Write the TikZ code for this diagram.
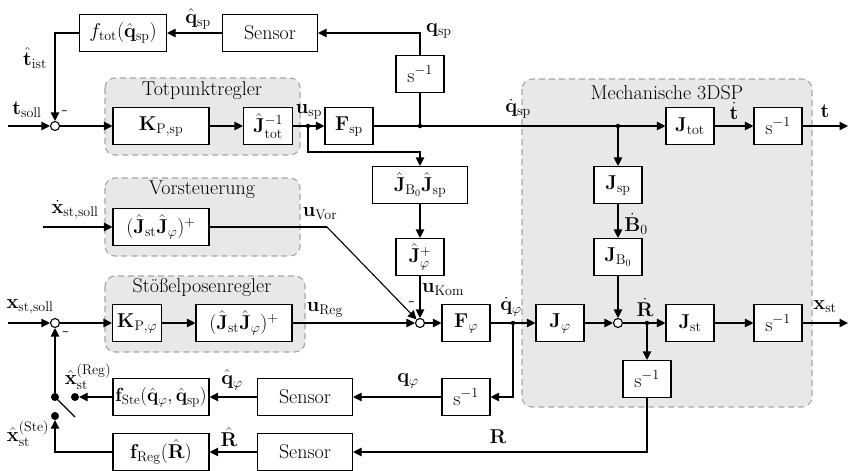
\RequirePackage{fix-cm}
\documentclass[tikz,border=0pt]{standalone}
\usepackage{amsmath}
\usetikzlibrary{arrows.meta}
\begin{document}
\begin{tikzpicture}[x=1pt,y=-1pt,
 font=\fontsize{20}{23}\selectfont,
 blk/.style={draw, line width=1.1pt, fill=white, minimum width=48, minimum height=37, inner sep=1pt},
 wblk/.style={blk, minimum width=96},
 sumc/.style={circle, draw, line width=1.1pt, fill=white, minimum size=9, inner sep=0pt},
 jdot/.style={circle, fill, minimum size=4.5, inner sep=0pt},
 sdot/.style={circle, fill, minimum size=8, inner sep=0pt},
 grp/.style={draw=black!35, dash pattern=on 6pt off 4pt, fill=black!9, rounded corners=10pt, line width=1.1pt},
 sig/.style={line width=1.1pt, -{Triangle[length=8.5pt,width=8.5pt]}},
 ln/.style={line width=1.1pt},
 lbl/.style={inner sep=1pt},
]
\useasboundingbox (0,0) rectangle (852,471);

% groups
\draw[grp] (105,78) rectangle (300,155);
\node (gtp) at (202,91) {Totpunktregler};
\draw[grp] (105,178) rectangle (300,256);
\node (gvs) at (202,190) {Vorsteuerung};
\draw[grp] (105,276) rectangle (305,352);
\node (gsp) at (202,288) {Stößelposenregler};
\draw[grp] (522,79) rectangle (812,407);
\node (gms) at (667,93) {Mechanische 3DSP};

% top row
\node[wblk, minimum width=87] (ftot) at (123,33) {$f_{\mathrm{tot}}(\hat{\mathbf{q}}_{\mathrm{sp}})$};
\node[wblk, minimum width=95] (sen1) at (270,33) {Sensor};
\node[blk] (s1) at (420,74) {$\mathrm{s}^{-1}$};

% main t row
\node[sumc] (sum1) at (55,126) {};
\node[wblk] (ksp) at (161,126) {$\mathbf{K}_{\mathrm{P},\mathrm{sp}}$};
\node[blk, minimum width=49] (jtoti) at (268,126) {$\hat{\mathbf{J}}_{\mathrm{tot}}^{-1}$};
\node[jdot] (usp) at (308,126) {};
\node[blk] (fsp) at (349,126) {$\mathbf{F}_{\mathrm{sp}}$};
\node[jdot] (dq) at (420,126) {};
\node[jdot] (dq2) at (618,126) {};
\node[blk] (jtot) at (690,126) {$\mathbf{J}_{\mathrm{tot}}$};
\node[blk] (s2) at (778,126) {$\mathrm{s}^{-1}$};
\coordinate (tout) at (848,126);
\coordinate (tin) at (8,126);

% middle column
\node[wblk, minimum width=95] (jbsp) at (420,185) {$\hat{\mathbf{J}}_{\mathrm{B}_0}\hat{\mathbf{J}}_{\mathrm{sp}}$};
\node[blk] (jphip) at (420,257) {$\hat{\mathbf{J}}_{\varphi}^{+}$};
\coordinate (ub) at (308,152);

% Vorsteuerung
\node[wblk] (vor) at (161,227) {$(\hat{\mathbf{J}}_{\mathrm{st}}\hat{\mathbf{J}}_{\varphi})^{+}$};
\coordinate (vin) at (43,227);
\coordinate (vk) at (327,227);

% Mech column
\node[blk] (jsp) at (618,185) {$\mathbf{J}_{\mathrm{sp}}$};
\node[blk] (jb0) at (618,257) {$\mathbf{J}_{\mathrm{B}_0}$};

% x row
\coordinate (xin) at (8,323);
\node[sumc] (sum3) at (55,323) {};
\node[blk, minimum width=49] (kphi) at (137,323) {$\mathbf{K}_{\mathrm{P},\varphi}$};
\node[wblk] (reg) at (244,323) {$(\hat{\mathbf{J}}_{\mathrm{st}}\hat{\mathbf{J}}_{\varphi})^{+}$};
\node[sumc] (sum2) at (420,323) {};
\node[blk] (fphi) at (466,323) {$\mathbf{F}_{\varphi}$};
\node[jdot] (dqphi) at (513,323) {};
\node[blk] (jphi) at (560,323) {$\mathbf{J}_{\varphi}$};
\node[sumc] (sum4) at (618,323) {};
\node[jdot] (dR) at (647,323) {};
\node[blk] (jst) at (690,323) {$\mathbf{J}_{\mathrm{st}}$};
\node[blk] (s3) at (778,323) {$\mathrm{s}^{-1}$};
\coordinate (xout) at (848,323);
\node[blk] (s4) at (647,379) {$\mathrm{s}^{-1}$};

% feedback rows
\node[blk] (s5) at (466,397) {$\mathrm{s}^{-1}$};
\node[wblk, minimum width=95] (sen3) at (305,397) {Sensor};
\node[wblk, inner sep=0pt, font=\fontsize{19}{22}\selectfont] (fste) at (161,397) {$\mathbf{f}_{\mathrm{Ste}}(\hat{\mathbf{q}}_{\varphi},\hat{\mathbf{q}}_{\mathrm{sp}})$};
\node[sdot] (swr) at (75,397) {};
\node[sdot] (swl) at (55,397) {};
\node[sdot] (swb) at (55,416) {};
\coordinate (blade) at (75,417);
\node[wblk, minimum width=95] (sen4) at (305,452) {Sensor};
\node[wblk] (freg) at (161,452) {$\mathbf{f}_{\mathrm{Reg}}(\hat{\mathbf{R}})$};

% connectors top
\draw[sig] (sen1) -- (ftot);
\draw[sig] (s1.north) |- (sen1.east);
\draw[ln] (dq) -- (s1);
\draw[sig] (ftot.west) -| (sum1.north);
\draw[sig] (tin) -- (sum1.west);
\draw[sig] (sum1) -- (ksp);
\draw[sig] (ksp) -- (jtoti);
\draw[sig] (jtoti) -- (fsp);
\draw[sig] (fsp) -- (jtot);
\draw[sig] (jtot) -- (s2);
\draw[sig] (s2) -- (tout);
\draw[sig] (dq2) -- (jsp);
\draw[sig] (usp.center) -- (ub) -| (jbsp.north);
\draw[sig] (jbsp) -- (jphip);
\draw[sig] (jphip) -- (sum2);
\draw[sig] (vin) -- (vor.west);
\draw[ln] (vor.east) -- (vk);
\draw[sig] (vk) -- (sum2);

% connectors x row
\draw[sig] (xin) -- (sum3);
\draw[sig] (sum3) -- (kphi);
\draw[sig] (kphi) -- (reg);
\draw[sig] (reg) -- (sum2);
\draw[sig] (sum2) -- (fphi);
\draw[sig] (fphi) -- (jphi);
\draw[sig] (jphi) -- (sum4);
\draw[sig] (jsp) -- (jb0);
\draw[sig] (jb0) -- (sum4);
\draw[sig] (sum4) -- (jst);
\draw[sig] (jst) -- (s3);
\draw[sig] (s3) -- (xout);
\draw[sig] (dR) -- (s4);

% feedback
\draw[sig] (s4.south) |- (sen4.east);
\draw[sig] (dqphi) |- (s5.east);
\draw[sig] (s5) -- (sen3);
\draw[sig] (sen3) -- (fste);
\draw[sig] (fste) -- (swr);
\draw[sig] (sen4) -- (freg);
\draw[sig] (freg.west) -| (swb.south);
\draw[sig] (swl) -- (sum3);
\draw[ln] (swl.center) -- (blade);

% labels
\node[lbl] (lqhsp) at (198,19) {$\hat{\mathbf{q}}_{\mathrm{sp}}$};
\node[lbl, anchor=west] (lqsp) at (425,31) {$\mathbf{q}_{\mathrm{sp}}$};
\node[lbl] (ltist) at (35,58) {$\hat{\mathbf{t}}_{\mathrm{ist}}$};
\node[lbl] (ltsoll) at (27,110) {$\mathbf{t}_{\mathrm{soll}}$};
\node[lbl] (lm1) at (65,113) {-};
\node[lbl] (lusp) at (309,112) {$\mathbf{u}_{\mathrm{sp}}$};
\node[lbl] (ldqsp) at (518,109) {$\dot{\mathbf{q}}_{\mathrm{sp}}$};
\node[lbl] (ltd) at (734,111) {$\dot{\mathbf{t}}$};
\node[lbl] (lt) at (825,111) {$\mathbf{t}$};
\node[lbl] (lxsd) at (75,210) {$\dot{\mathbf{x}}_{\mathrm{st},\mathrm{soll}}$};
\node[lbl] (luvor) at (320,214) {$\mathbf{u}_{\mathrm{Vor}}$};
\node[lbl] (lukom) at (443,290) {$\mathbf{u}_{\mathrm{Kom}}$};
\node[lbl] (lureg) at (325,310) {$\mathbf{u}_{\mathrm{Reg}}$};
\node[lbl] (lm2) at (412,304) {-};
\node[lbl] (lxs) at (30,307) {$\mathbf{x}_{\mathrm{st},\mathrm{soll}}$};
\node[lbl] (lm3) at (66,334) {-};
\node[lbl] (ldqphi) at (511,307) {$\dot{\mathbf{q}}_{\varphi}$};
\node[lbl] (lb0) at (636,224) {$\dot{\mathbf{B}}_{0}$};
\node[lbl] (lRd) at (645,307) {$\dot{\mathbf{R}}$};
\node[lbl] (lxst) at (825,307) {$\mathbf{x}_{\mathrm{st}}$};
\node[lbl] (lqphi) at (408,381) {$\mathbf{q}_{\varphi}$};
\node[lbl] (lqhphi) at (232,380) {$\hat{\mathbf{q}}_{\varphi}$};
\node[lbl] (lR) at (498,437) {$\mathbf{R}$};
\node[lbl] (lRh) at (229,437) {$\hat{\mathbf{R}}$};
\node[lbl] (lxreg) at (88,377) {$\hat{\mathbf{x}}_{\mathrm{st}}^{(\mathrm{Reg})}$};
\node[lbl] (lxste) at (28,434) {$\hat{\mathbf{x}}_{\mathrm{st}}^{(\mathrm{Ste})}$};
\end{tikzpicture}
\end{document}
